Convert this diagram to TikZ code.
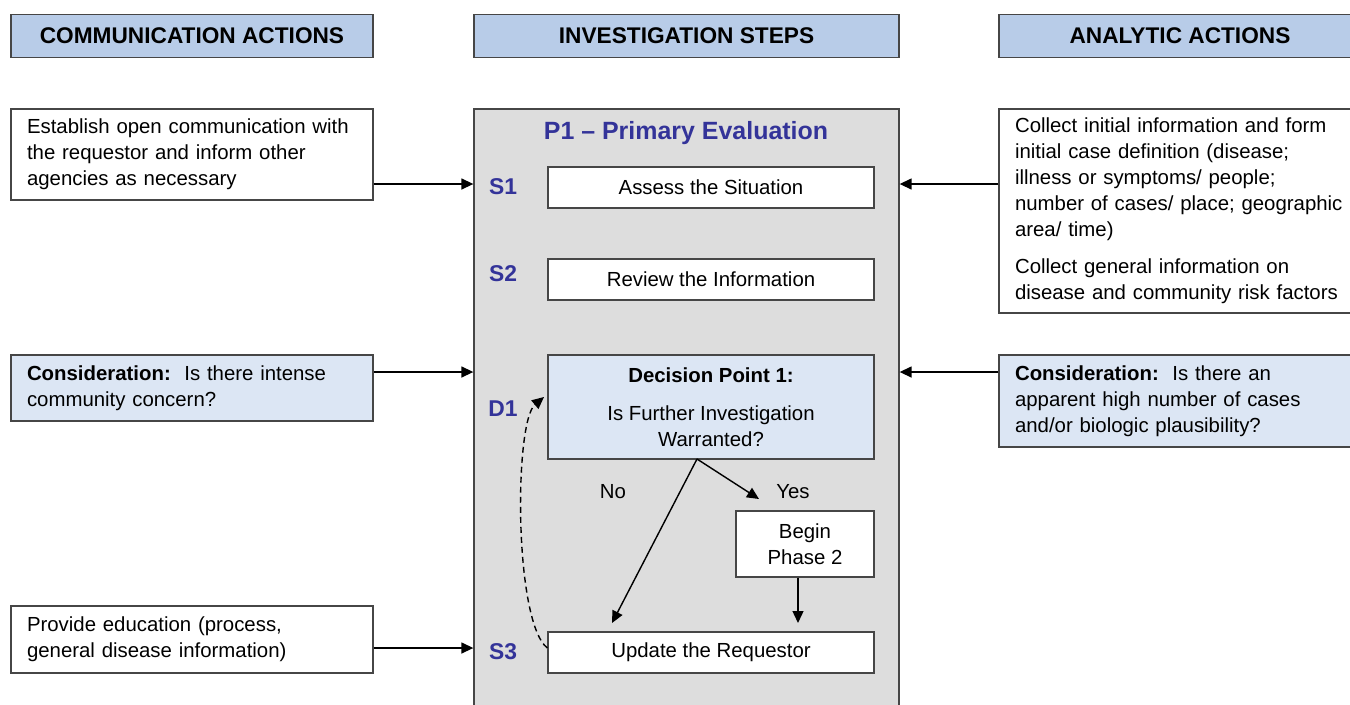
\documentclass[tikz,border=0pt]{standalone}
\usepackage{fontspec}
\setmainfont{Liberation Sans}
\usetikzlibrary{calc,arrows.meta}

\definecolor{headblue}{RGB}{184,204,232}
\definecolor{paleblue}{RGB}{220,230,244}
\definecolor{panelgray}{RGB}{221,221,221}
\definecolor{edgegray}{RGB}{70,70,70}
\definecolor{labblue}{RGB}{51,51,153}

\newcommand{\bodyfont}{\fontsize{11.6}{14.7}\selectfont}

\begin{document}
\begin{tikzpicture}[x=0.02cm, y=-0.02cm,
          head/.style = {draw=edgegray, line width=0.8pt, fill=headblue, minimum width=7.24cm,
                         minimum height=0.86cm, font=\fontsize{12.9}{15}\selectfont\bfseries},
          sidebox/.style = {draw=edgegray, line width=0.8pt, fill=white, text width=6.6cm,
                            inner xsep=0.32cm, align=left, font=\bodyfont},
          stepbox/.style = {draw=edgegray, line width=0.8pt, fill=white, minimum width=6.52cm,
                            minimum height=0.82cm, align=center, font=\bodyfont},
          steplab/.style = {text=labblue, font=\fontsize{13}{15}\selectfont\bfseries},
          arr/.style = {line width=0.8pt, -{Triangle[length=0.24cm, width=0.22cm]}}]
        \useasboundingbox (0,0) rectangle (1350,704);
        \clip (0,0) rectangle (1350,704);
        % column headers
        \node[head] (hcomm) at (192,36) {COMMUNICATION ACTIONS};
        \node[head, minimum width=8.5cm] (hinv) at (686.5,36) {INVESTIGATION STEPS};
        \node[head] (hana) at (1180,36) {ANALYTIC ACTIONS};
        % middle panel
        \node[draw=edgegray, line width=0.8pt, fill=panelgray, minimum width=8.5cm,
              minimum height=12.2cm] (panel) at (686.5,414) {};
        \node[text=labblue, font=\fontsize{14.2}{16}\selectfont\bfseries] (p1) at (686,133)
              {P1 -- Primary Evaluation};
        \node[stepbox] (s1) at (711,187.5) {Assess the Situation};
        \node[stepbox] (s2) at (711,279.5) {Review the Information};
        \node[stepbox, fill=paleblue, minimum height=2.08cm] (d1) at (711,407)
              {\textbf{Decision Point 1:}\\[0.24cm] Is Further Investigation\\ Warranted?};
        \node[stepbox, minimum width=2.76cm, minimum height=1.32cm] (ph2) at (805,544)
              {Begin\\ Phase 2};
        \node[stepbox] (s3) at (711,652.5) {Update the Requestor};
        \node[steplab] (ls1) at (503,187) {S1};
        \node[steplab] (ls2) at (503,274) {S2};
        \node[steplab] (ld1) at (503,409) {D1};
        \node[steplab] (ls3) at (503,652) {S3};
        \node[font=\bodyfont] (no) at (613,492) {No};
        \node[font=\bodyfont] (yes) at (793,492) {Yes};
        % side boxes
        \node[sidebox, minimum height=1.82cm] (c1) at (192,154.5)
              {Establish open communication with\\ the requestor and inform other\\ agencies as necessary};
        \node[sidebox, fill=paleblue, minimum height=1.32cm] (c2) at (192,388)
              {\textbf{Consideration:}\ \ Is there intense\\ community concern?};
        \node[sidebox, minimum height=1.34cm] (c3) at (192,639.5)
              {Provide education (process,\\ general disease information)};
        \node[sidebox, minimum height=4.08cm] (a1) at (1180,211)
              {Collect initial information and form\\ initial case definition (disease;\\ illness or symptoms/ people;\\ number of cases/ place; geographic\\ area/ time)\\[0.24cm]
               Collect general information on\\ disease and community risk factors};
        \node[sidebox, fill=paleblue, minimum height=1.84cm] (a2) at (1180,401)
              {\textbf{Consideration:}\ \ Is there an\\ apparent high number of cases\\ and/or biologic plausibility?};
        % connectors
        \foreach \n/\y in {c1/184, c2/372, c3/648}
                 {
                   \draw[arr] (\n.east |- 0,\y) -- (panel.west |- 0,\y);
                 }
        \foreach \n/\y in {a1/184, a2/372}
                 {
                   \draw[arr] (\n.west |- 0,\y) -- (panel.east |- 0,\y);
                 }
        \coordinate (split) at (697,459);
        \coordinate (noend) at (612,623);
        \coordinate (yesend) at (759,499);
        \coordinate (ph2end) at (798,623);
        \coordinate (loopend) at (544,397);
        \draw[arr] (split) -- (noend);
        \draw[arr] (split) -- (yesend);
        \draw[arr] (ph2.south -| ph2end) -- (ph2end);
        \draw[arr, dash pattern=on 3.4pt off 2.3pt] (s3.west |- 0,648) .. controls (514,622) and (514,422) .. (loopend);
      \end{tikzpicture}
\end{document}
